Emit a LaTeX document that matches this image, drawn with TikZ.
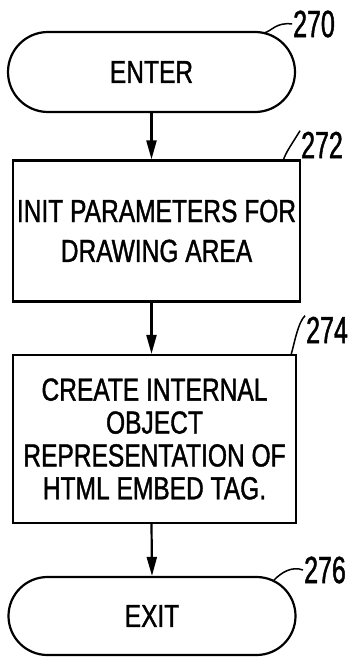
\documentclass[tikz,border=0pt]{standalone}
\usepackage{fontspec}
\setmainfont{Liberation Sans}
\newfontfamily\boxfont[FakeStretch=0.77,FakeBold=1.2]{Liberation Sans}
\newfontfamily\labfont[FakeStretch=0.66,FakeBold=1.2]{Liberation Sans}
\usetikzlibrary{shapes.misc,arrows.meta}
\begin{document}
\begin{tikzpicture}[x=1bp,y=-1bp,
  line width=2.2bp,
  term/.style={draw,rounded rectangle,minimum width=287bp,minimum height=80bp,inner sep=0pt,
     font=\boxfont\fontsize{32}{36}\selectfont},
  stepbox/.style={draw,rectangle,inner sep=0pt,align=center},
  flow/.style={-{Triangle[length=19bp,width=10bp]}},
  reflab/.style={inner sep=0pt,font=\labfont\fontsize{38}{40}\selectfont},
  leader/.style={line width=1.5bp}]
\useasboundingbox (0,0) rectangle (352,658);
\node[term] (enter) at (151.5,72) {ENTER};
\node[stepbox,minimum width=287bp,minimum height=141bp,
  font=\boxfont\fontsize{32}{40}\selectfont] (box1) at (156.5,231) {INIT PARAMETERS FOR\\DRAWING AREA};
\node[stepbox,minimum width=283bp,minimum height=168bp,
  font=\boxfont\fontsize{32}{33}\selectfont] (box2) at (154.5,439) {CREATE INTERNAL\\OBJECT\\REPRESENTATION OF\\HTML EMBED TAG.};
\node[term,minimum height=78bp] (exit) at (152,616) {EXIT};
\draw[flow] (enter.south) -- (enter.south |- box1.north);
\draw[flow] (box1.south -| enter.south) -- (enter.south |- box2.north);
\draw[flow] (box2.south -| enter.south) -- (exit.north);
\node[reflab] (l270) at (314,24) {270};
\node[reflab] (l272) at (322,145) {272};
\node[reflab] (l274) at (327,330) {274};
\node[reflab] (l276) at (325,570) {276};
\coordinate (c270) at (264,33);
\coordinate (c272) at (283,161);
\coordinate (c274) at (291,355);
\coordinate (c276) at (274,580);
\draw[leader] (c270) .. controls (272,31) and (276,22) .. (l270.west);
\draw[leader] (c272) .. controls (286,152) and (290,147) .. (l272.north west);
\draw[leader] (c274) .. controls (294,345) and (298,322) .. (l274.north west);
\draw[leader] (c276) .. controls (282,572) and (292,566) .. (l276.west);
\end{tikzpicture}
\end{document}
